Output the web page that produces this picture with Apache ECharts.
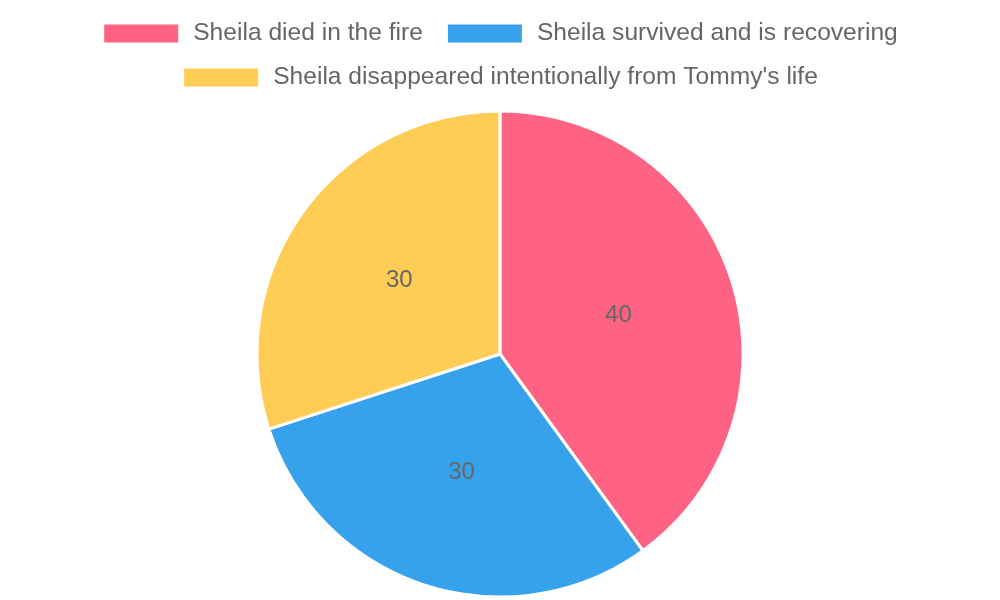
<!DOCTYPE html>
<html><head><meta charset="utf-8">
<script src="https://cdn.jsdelivr.net/npm/echarts@6/dist/echarts.min.js"></script>
<style>html,body{margin:0;padding:0;background:#fff}#c{width:1000px;height:600px}</style>
</head><body><div id="c"></div>
<script>
const categories = ["Sheila died in the fire", "Sheila survived and is recovering", "Sheila disappeared intentionally from Tommy's life"];
const values = [40, 30, 30];
const colors = ["#FF6384", "#36A2EB", "#FFCD56"];

const chart = echarts.init(document.getElementById('c'), null, {renderer: 'canvas'});
const legendText = {color: '#666', fontSize: 24.6, fontFamily: 'Liberation Sans, Arial, sans-serif', padding: [0, 0, 0, 9]};
chart.setOption({
  animation: false,
  color: colors,
  legend: [
    {data: categories.slice(0, 2), top: 16, left: 'center', itemWidth: 76, itemHeight: 20, itemGap: 23, icon: 'rect', textStyle: legendText, selectedMode: false},
    {data: categories.slice(2), top: 60, left: 'center', itemWidth: 76, itemHeight: 20, itemGap: 23, icon: 'rect', textStyle: legendText, selectedMode: false}
  ],
  series: [{
    type: 'pie',
    center: [500, 354],
    radius: 243,
    startAngle: 90,
    clockwise: true,
    data: categories.map((n, i) => ({name: n, value: values[i]})),
    itemStyle: {borderColor: '#fff', borderWidth: 3},
    label: {show: true, position: 'inside', formatter: '{c}', color: '#666', fontSize: 24, fontFamily: 'Liberation Sans, Arial, sans-serif'},
    labelLine: {show: false},
    emphasis: {disabled: true}
  }]
});
</script></body></html>
